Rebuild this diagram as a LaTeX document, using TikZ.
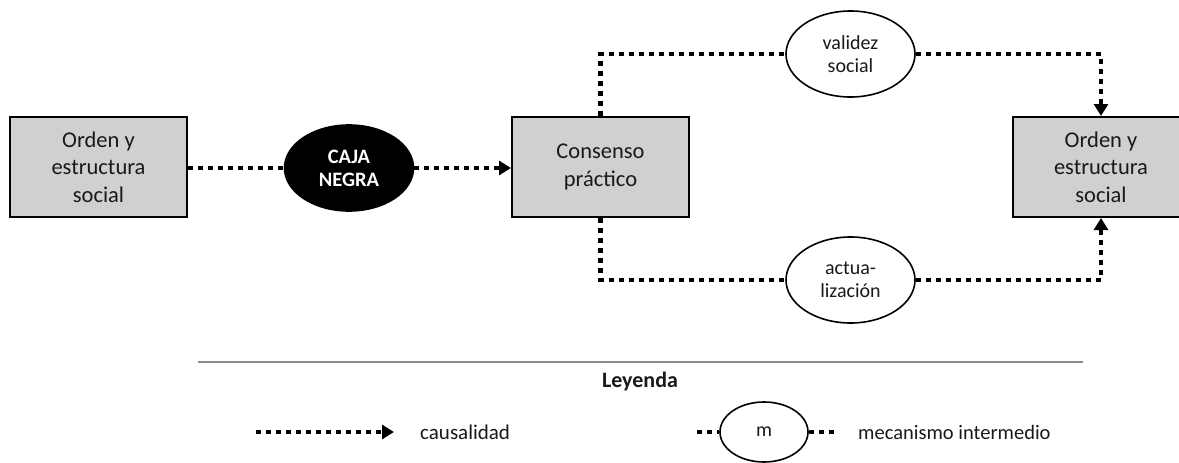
\documentclass[tikz,border=0pt]{standalone}
\usepackage{fontspec}
\setmainfont{Carlito}
\usetikzlibrary{shapes.geometric,arrows.meta}
\definecolor{boxgray}{HTML}{D0D0D0}
\definecolor{rulegray}{HTML}{8A8A8A}
\tikzset{
  graybox/.style={draw=black,line width=2pt,fill=boxgray,minimum width=177pt,minimum height=100pt,inner sep=0pt,align=center,font=\fontsize{22.5}{27.5}\selectfont,text=black!90},
  mech/.style={ellipse,draw=black,line width=1.6pt,fill=white,minimum width=129pt,minimum height=86pt,inner sep=0pt,align=center,font=\fontsize{20}{23}\selectfont,text=black!90},
  blackmech/.style={mech,fill=black,text=white,font=\fontsize{20.5}{23}\selectfont\bfseries},
  causal/.style={line width=4.5pt,dash pattern=on 5pt off 5pt},
  causalarrow/.style={causal,-{Triangle[width=14pt,length=12pt]}},
  legtext/.style={anchor=west,font=\fontsize{21}{24}\selectfont,text=black!90,inner sep=0pt}
}
\begin{document}
\begin{tikzpicture}[x=1pt,y=1pt]
\useasboundingbox (0,0) rectangle (1179,-463);
\clip (0,0) rectangle (1179,-463);
% nodes
\node[graybox] (lbox) at (98.5,-167) {Orden y\\estructura\\social};
\node[blackmech] (caja) at (349,-168) {CAJA\\NEGRA};
\node[graybox] (cons) at (600.5,-167) {Consenso\\práctico};
\node[graybox] (rbox) at (1101,-167) {Orden y\\estructura\\social};
\node[mech] (val) at (850.5,-54) {validez\\social};
\node[mech] (act) at (850.5,-280) {actua-\\lización};
% connectors
\draw[causal] (lbox.east |- caja.west) -- (caja.west);
\draw[causalarrow] (caja.east) -- (cons.west |- caja.east);
\draw[causal] (cons.north) |- (val.west);
\draw[causalarrow] (val.east) -| (rbox.north);
\draw[causal] (cons.south) |- (act.west);
\draw[causalarrow] (act.east) -| (rbox.south);
% legend
\draw[rulegray,line width=1.5pt] (198,-362) -- (1083,-362);
\node[font=\fontsize{22}{24}\selectfont\bfseries,text=black!90] (ley) at (640,-382) {Leyenda};
\coordinate (ca) at (256,-432);
\coordinate (cb) at (394,-432);
\draw[causalarrow] (ca) -- (cb);
\node[legtext] (caus) at (420,-432) {causalidad};
\node[mech,minimum width=88pt,minimum height=60pt] (m) at (764,-432) {m};
\coordinate (ma) at (697,-432);
\coordinate (mb) at (835,-432);
\draw[causal] (ma) -- (m.west);
\draw[causal] (m.east) -- (mb);
\node[legtext,font=\fontsize{20.5}{24}\selectfont] (mec) at (858,-432) {mecanismo intermedio};
\end{tikzpicture}
\end{document}
